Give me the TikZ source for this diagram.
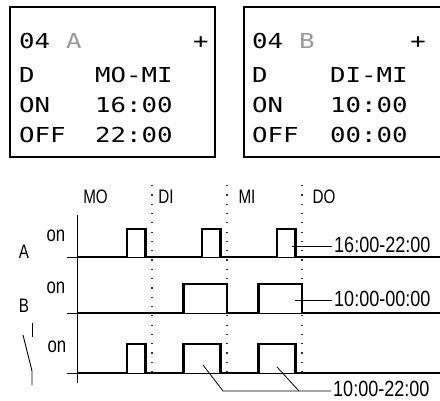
\documentclass[tikz,border=0pt]{standalone}
\usepackage{fontspec}
\newfontfamily\lcd[FakeStretch=1.25]{DejaVu Sans Mono}
\newfontfamily\condA[FakeStretch=0.78]{Liberation Sans}
\newfontfamily\condB[FakeStretch=0.82]{Liberation Sans}
\begin{document}
\begin{tikzpicture}[x=1pt,y=-1pt,
  lcdbox/.style={line width=1.4pt},
  lcdtxt/.style={anchor=base west, inner sep=0pt, font=\lcd\fontsize{20.6}{22}\selectfont},
  lcdgray/.style={lcdtxt, text=black!40},
  lcdplus/.style={anchor=base, inner sep=0pt, font=\lcd\fontsize{20.6}{22}\selectfont},
  day/.style={anchor=base, inner sep=0pt, font=\condA\fontsize{19.5}{21}\selectfont},
  onlbl/.style={anchor=base, inner sep=0pt, font=\condA\fontsize{21.5}{23}\selectfont},
  signame/.style={anchor=base, inner sep=0pt, font=\condA\fontsize{19.5}{21}\selectfont},
  timelbl/.style={anchor=base west, inner xsep=2pt, inner ysep=0pt, font=\condB\fontsize{22}{24}\selectfont},
  sig/.style={line width=2.6pt},
  base/.style={line width=0.9pt},
  dotline/.style={line width=1.2pt, dash pattern=on 1.2pt off 8.1pt, black!80},
  lead/.style={line width=0.8pt}
]
\useasboundingbox (0,0) rectangle (440,400);

% LCD box A
\draw[lcdbox] (10,7) rectangle (215,157);
\node[lcdtxt] (a1) at (19,48) {04};
\node[lcdgray] (a1b) at (66,48) {A};
\node[lcdplus] (a1c) at (201,48) {+};
\node[lcdtxt] (a2) at (19,82) {D};
\node[lcdtxt] (a2b) at (95,82) {MO-MI};
\node[lcdtxt] (a3) at (19,112) {ON};
\node[lcdtxt] (a3b) at (95,112) {16:00};
\node[lcdtxt] (a4) at (19,142) {OFF};
\node[lcdtxt] (a4b) at (95,142) {22:00};

% LCD box B (open to the right edge)
\draw[lcdbox] (440,7) -- (244,7) -- (244,157) -- (440,157);
\node[lcdtxt] (b1) at (252,48) {04};
\node[lcdgray] (b1b) at (299,48) {B};
\node[lcdplus] (b1c) at (418,48) {+};
\node[lcdtxt] (b2) at (252,82) {D};
\node[lcdtxt] (b2b) at (330,82) {DI-MI};
\node[lcdtxt] (b3) at (252,112) {ON};
\node[lcdtxt] (b3b) at (330,112) {10:00};
\node[lcdtxt] (b4) at (252,142) {OFF};
\node[lcdtxt] (b4b) at (330,142) {00:00};

% day labels
\node[day] (dMO) at (95.5,203) {MO};
\node[day] (dDI) at (166,203) {DI};
\node[day] (dMI) at (247,203) {MI};
\node[day] (dDO) at (324,203) {DO};

% dotted day separators
\draw[dotline] (152,185) -- (152,378);
\draw[dotline] (227,185) -- (227,378);
\draw[dotline] (302,185) -- (302,378);

% axis and baselines
\draw[base] (77,215) -- (77,383);
\draw[base] (67,257) -- (440,257);
\draw[base] (67,313) -- (440,313);
\draw[base] (67,373) -- (440,373);

% signal names
\node[signame] (nA) at (24,258) {A};
\node[signame] (nB) at (24,312) {B};
\node[onlbl] (onA) at (56,241) {on};
\node[onlbl] (onB) at (56,293) {on};
\node[onlbl] (onC) at (57,352) {on};

% switch symbol
\draw[base] (32,323) -- (32,337);
\draw[base] (23,335) -- (32,371) -- (32,385);

% signal A
\draw[sig] (77,257) -- (127,257) -- (127,229) -- (145.75,229) -- (145.75,257)
  -- (202,257) -- (202,229) -- (220.75,229) -- (220.75,257)
  -- (277,257) -- (277,229) -- (295.75,229) -- (295.75,257) -- (440,257);
% signal B
\draw[sig] (77,313) -- (183.25,313) -- (183.25,284) -- (227,284) -- (227,313)
  -- (258.25,313) -- (258.25,284) -- (302,284) -- (302,313) -- (440,313);
% signal C
\draw[sig] (77,373) -- (127,373) -- (127,344) -- (145.75,344) -- (145.75,373)
  -- (183.25,373) -- (183.25,344) -- (220.75,344) -- (220.75,373)
  -- (258.25,373) -- (258.25,344) -- (295.75,344) -- (295.75,373) -- (440,373);

% time labels with leader lines
\node[timelbl] (tA) at (332,252.5) {16:00-22:00};
\node[timelbl] (tB) at (332,306.5) {10:00-00:00};
\node[timelbl] (tC) at (331,396) {10:00-22:00};
\coordinate (lA) at (292,246);
\coordinate (lB) at (295,300);
\coordinate (lC1) at (203,365);
\coordinate (lCm) at (223,391);
\coordinate (lC2) at (277,367);
\coordinate (lCn) at (299,391);
\draw[lead] (lA) -- (lA -| tA.west);
\draw[lead] (lB) -- (lB -| tB.west);
\draw[lead] (lC1) -- (lCm) -- (lCm -| tC.west);
\draw[lead] (lC2) -- (lCn);
\end{tikzpicture}
\end{document}
